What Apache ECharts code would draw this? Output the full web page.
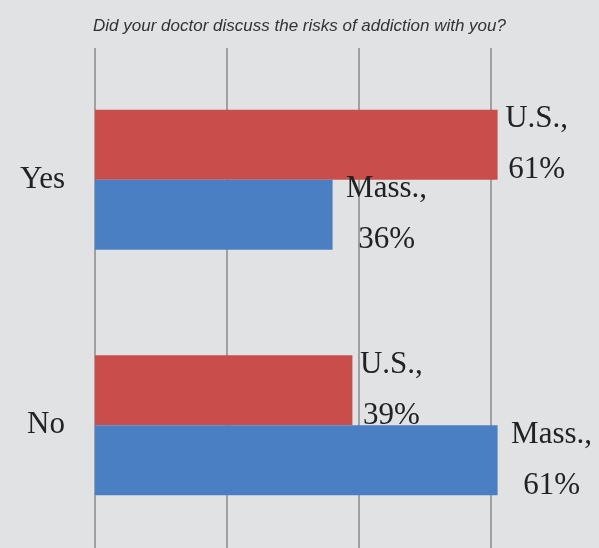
<!DOCTYPE html>
<html><head><meta charset="utf-8">
<script src="https://cdn.jsdelivr.net/npm/echarts@6/dist/echarts.min.js"></script>
<style>html,body{margin:0;padding:0;background:#e1e2e4}#c{width:599px;height:548px}</style>
</head><body><div id="c"></div>
<script>
var categories = ['Yes', 'No'];
var usValues = [61, 39];
var massValues = [36, 61];
var xTicks = [0, 20, 40, 60];
var titleText = 'Did your doctor discuss the risks of addiction with you?';

var chart = echarts.init(document.getElementById('c'));
function lbl(w) {
  return {
    show: true, position: 'right', distance: 8,
    formatter: '{t|{a},}\n{t|{c}%}',
    rich: { t: { width: w, align: 'center', fontFamily: 'Liberation Serif', fontSize: 31, lineHeight: 51, color: '#222' } }
  };
}
var xBase = { type: 'value', min: xTicks[0], max: xTicks[xTicks.length - 1], interval: xTicks[1] - xTicks[0],
  axisLabel: { show: false }, axisLine: { show: false }, axisTick: { show: false } };
chart.setOption({
  backgroundColor: '#e1e2e4',
  animation: false,
  title: { text: titleText, left: 'center', top: 13,
    textStyle: { fontFamily: 'Liberation Sans', fontStyle: 'italic', fontWeight: 'normal', fontSize: 17, color: '#333' } },
  grid: [
    { left: 95, width: 396, top: 57, height: 492 },
    { left: 95, width: 396, top: 48, bottom: 0 }
  ],
  xAxis: [
    Object.assign({}, xBase, { gridIndex: 0, splitLine: { show: false } }),
    Object.assign({}, xBase, { gridIndex: 1, splitLine: { show: true, lineStyle: { color: '#8a8a8a', width: 1.5 } } })
  ],
  yAxis: [
    { type: 'category', data: categories, inverse: true, gridIndex: 0,
      axisLine: { show: false }, axisTick: { show: false },
      axisLabel: { fontFamily: 'Liberation Serif', fontSize: 31, color: '#222', margin: 30 } },
    { type: 'value', gridIndex: 1, show: false, splitLine: { show: false } }
  ],
  series: [
    { name: 'U.S.', type: 'bar', data: usValues, barWidth: 70, barGap: '0%', clip: false, z: 3,
      itemStyle: { color: '#c84d4b' }, label: lbl(62) },
    { name: 'Mass.', type: 'bar', data: massValues, barWidth: 70, barGap: '0%', clip: false, z: 3,
      itemStyle: { color: '#4a7fc4' }, label: lbl(92) }
  ]
});
</script></body></html>
